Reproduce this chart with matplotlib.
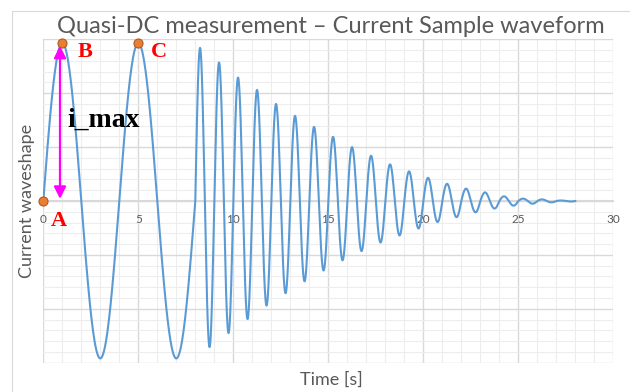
import numpy as np
import matplotlib
matplotlib.use('Agg')
from matplotlib import pyplot as plt
from matplotlib.patches import Rectangle
from matplotlib.ticker import MultipleLocator

#%% waveform extremes and zero crossings
peak_t = [1, 5, 8.25, 9.25, 10.25, 11.25, 12.25, 13.25, 14.25, 15.25, 16.25,
          17.25, 18.25, 19.25, 20.25, 21.25, 22.25, 23.25, 24.25, 25.25, 26.25, 27.25]
peak_v = [2.93, 2.93, 2.84, 2.57, 2.29, 2.06, 1.80, 1.58, 1.375, 1.19, 1.00,
          0.84, 0.68, 0.55, 0.43, 0.32, 0.23, 0.16, 0.087, 0.045, 0.03, 0.01]
trough_t = [3, 7, 8.75, 9.75, 10.75, 11.75, 12.75, 13.75, 14.75, 15.75, 16.75,
            17.75, 18.75, 19.75, 20.75, 21.75, 22.75, 23.75, 24.75, 25.75, 26.75, 27.75]
trough_v = [-2.92, -2.92, -2.71, -2.45, -2.19, -1.94, -1.71, -1.49, -1.29, -1.10, -0.93,
            -0.77, -0.64, -0.51, -0.39, -0.30, -0.21, -0.14, -0.086, -0.05, -0.025, -0.01]
zero_t = [0, 2, 4, 6, 8, 8.5, 9, 9.5, 10, 10.5, 11, 11.5, 12, 12.5, 13, 13.5, 14,
          14.5, 15, 15.5, 16, 16.5, 17, 17.5, 18, 18.5, 19, 19.5, 20, 20.5, 21,
          21.5, 22, 22.5, 23, 23.5, 24, 24.5, 25, 25.5, 26, 26.5, 27, 27.5, 28]

# marked points A, B, C
point_names = ['A', 'B', 'C']
point_t = [0, 1, 5]
point_v = [0, 2.93, 2.93]

#%% build the curve: quarter sine waves between each zero crossing and extreme
knots = sorted(list(zip(peak_t, peak_v)) + list(zip(trough_t, trough_v))
               + [(t, 0.0) for t in zero_t])
t_all, y_all = [], []
for (t0, y0), (t1, y1) in zip(knots[:-1], knots[1:]):
    s = np.linspace(0, 1, 40)
    t_all.append(t0 + (t1 - t0) * s)
    y_all.append(y0 * np.cos(np.pi / 2 * s) + y1 * np.sin(np.pi / 2 * s))
t_all = np.concatenate(t_all)
y_all = np.concatenate(y_all)

#%%
plt.rcParams['font.family'] = ['Lato', 'DejaVu Sans']
fig = plt.figure(figsize=(6.3, 3.92), dpi=100)
ax = fig.add_axes([0.0687, 0.0747, 0.9048, 0.825])

ax.plot(t_all, y_all, color='#5B9BD5', lw=1.5, zorder=3)
ax.plot(point_t, point_v, 'o', ms=6.5, mfc='#ED7D31', mec='#AE5A21', mew=0.8,
        zorder=5, clip_on=False)

ax.set_xlim(0, 30)
ax.set_ylim(-3, 3)
ax.xaxis.set_major_locator(MultipleLocator(5))
ax.xaxis.set_minor_locator(MultipleLocator(1))
ax.yaxis.set_major_locator(MultipleLocator(1))
ax.yaxis.set_minor_locator(MultipleLocator(0.2))
ax.grid(which='major', color='#D9D9D9', lw=1.0, zorder=0)
ax.grid(which='minor', color='#EDEDED', lw=0.8, zorder=0)
ax.set_axisbelow(True)

for side in ['top', 'right', 'left']:
    ax.spines[side].set_visible(False)
ax.spines['bottom'].set_position(('data', 0))
ax.spines['bottom'].set_color('#D9D9D9')
ax.spines['bottom'].set_linewidth(1.5)
ax.tick_params(which='both', length=0)
ax.tick_params(axis='x', pad=9, labelsize=8.5, labelcolor='#595959')
ax.set_yticklabels([])

ax.set_xlabel('Time [s]', fontsize=13, color='#595959', va='center')
ax.xaxis.set_label_coords(0.505, -0.0535)
ax.set_ylabel('Current waveshape', fontsize=13, color='#595959', va='center')
ax.yaxis.set_label_coords(-0.0286, 0.5)
ax.text(0.505, 1.041, 'Quasi-DC measurement – Current Sample waveform',
        transform=ax.transAxes, ha='center', va='center', fontsize=17,
        color='#595959')

# i_max arrow from A up to B
ax.annotate('', xy=(0.88, 2.88), xytext=(0.88, 0.04),
            arrowprops=dict(arrowstyle='<|-|>', color='#FF00FF', lw=1.6,
                            mutation_scale=18, shrinkA=0, shrinkB=0), zorder=4)
ax.text(1.25, 1.5, 'i_max', fontsize=20, fontweight='bold',
        family='Liberation Serif', color='black', ha='left', va='center', zorder=6)
label_pos = [(0.83, -0.38), (2.19, 2.76), (6.09, 2.76)]
for name, (lx, ly) in zip(point_names, label_pos):
    ax.text(lx, ly, name, fontsize=16, fontweight='bold', family='Liberation Serif',
            color='red', ha='center', va='center', zorder=6)

# chart area border
fig.add_artist(Rectangle((12 / 630, -0.1), 1.2, 1.1 - 11 / 392, fill=False,
                         edgecolor='#D9D9D9', lw=0.8, transform=fig.transFigure))

fig.savefig('out.png', dpi=100)
